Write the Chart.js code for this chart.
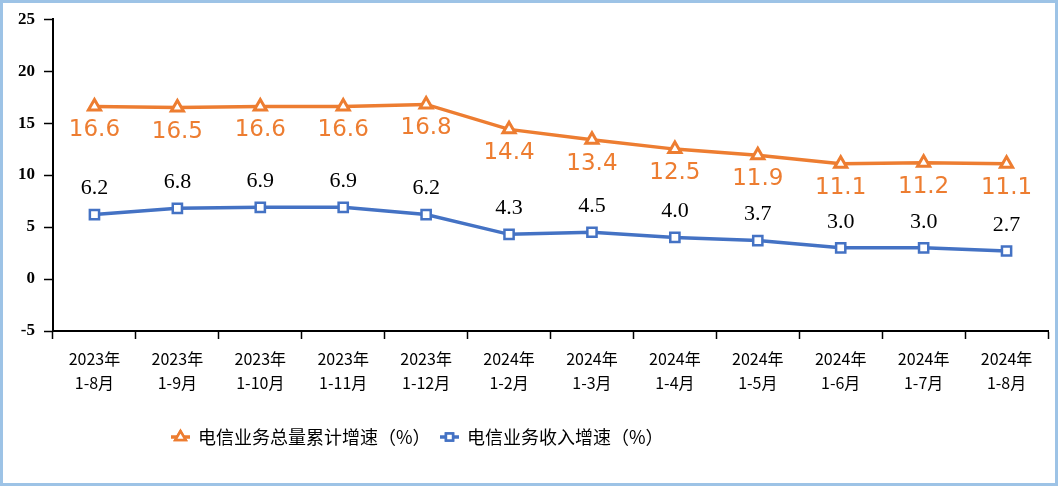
<!DOCTYPE html>
<html>
<head>
<meta charset="utf-8">
<script src="https://cdn.jsdelivr.net/npm/chart.js@4"></script>
<style>
  html, body { margin: 0; padding: 0; background: #fff; }
  #wrap { position: relative; width: 1058px; height: 486px; }
</style>
</head>
<body>
<div id="wrap"><canvas id="c" width="1058" height="486"></canvas></div>
<script>
  // 数据
  const years = ['2023年', '2023年', '2023年', '2023年', '2023年', '2024年', '2024年', '2024年', '2024年', '2024年', '2024年', '2024年'];
  const periods = ['1-8月', '1-9月', '1-10月', '1-11月', '1-12月', '1-2月', '1-3月', '1-4月', '1-5月', '1-6月', '1-7月', '1-8月'];
  const totalGrowth = [16.6, 16.5, 16.6, 16.6, 16.8, 14.4, 13.4, 12.5, 11.9, 11.1, 11.2, 11.1];
  const revenueGrowth = [6.2, 6.8, 6.9, 6.9, 6.2, 4.3, 4.5, 4.0, 3.7, 3.0, 3.0, 2.7];
  const seriesNames = ['电信业务总量累计增速（%）', '电信业务收入增速（%）'];

  const ORANGE = '#ED7D31', BLUE = '#4472C4';
  const CJK = '"Noto Sans CJK SC", "Noto Sans", sans-serif';

  // 数值标签 + 图例 + 外框
  const deco = {
    id: 'deco',
    afterDatasetsDraw(chart) {
      const ctx = chart.ctx;
      ctx.save();
      ctx.textAlign = 'center';
      ctx.textBaseline = 'middle';
      chart.getDatasetMeta(0).data.forEach((pt, i) => {
        ctx.fillStyle = ORANGE;
        ctx.font = '23px "DejaVu Sans", sans-serif';
        ctx.fillText(totalGrowth[i].toFixed(1), pt.x, pt.y + 24);
      });
      chart.getDatasetMeta(1).data.forEach((pt, i) => {
        ctx.fillStyle = '#000';
        ctx.font = '22px "Liberation Serif", serif';
        ctx.fillText(revenueGrowth[i].toFixed(1), pt.x, pt.y - 26);
      });
      ctx.restore();
    },
    afterDraw(chart) {
      const ctx = chart.ctx;
      ctx.save();
      // legend
      const ly = 437;
      const items = [
        { x: 171, color: ORANGE, style: 'triangle', text: seriesNames[0] },
        { x: 440, color: BLUE, style: 'rect', text: seriesNames[1] },
      ];
      items.forEach(it => {
        ctx.strokeStyle = it.color; ctx.lineWidth = 3.5;
        ctx.beginPath(); ctx.moveTo(it.x, ly); ctx.lineTo(it.x + 19, ly); ctx.stroke();
        ctx.fillStyle = '#fff'; ctx.lineWidth = 2.5;
        Chart.helpers.drawPoint(ctx, { pointStyle: it.style, radius: it.style === 'rect' ? 5 : 6, rotation: 0, borderWidth: 2.5 }, it.x + 9.5, ly);
        ctx.fill(); ctx.stroke();
        ctx.fillStyle = '#000';
        ctx.font = '18px ' + CJK;
        ctx.textAlign = 'left'; ctx.textBaseline = 'middle';
        ctx.fillText(it.text, it.x + 27, ly);
      });
      // frame
      ctx.strokeStyle = '#9DC3E6'; ctx.lineWidth = 3;
      ctx.strokeRect(1.5, 1.5, chart.width - 3, chart.height - 3);
      ctx.restore();
    }
  };

  new Chart(document.getElementById('c').getContext('2d'), {
    type: 'line',
    data: {
      labels: years.map((y, i) => [y, periods[i]]),
      datasets: [
        { label: seriesNames[0], data: totalGrowth, borderColor: ORANGE, borderWidth: 3.5, backgroundColor: '#fff',
          pointStyle: 'triangle', pointRadius: 7, pointBorderWidth: 3, pointBorderColor: ORANGE, pointBackgroundColor: '#fff', tension: 0 },
        { label: seriesNames[1], data: revenueGrowth, borderColor: BLUE, borderWidth: 3.5, backgroundColor: '#fff',
          pointStyle: 'rect', pointRadius: 6.5, pointBorderWidth: 2.5, pointBorderColor: BLUE, pointBackgroundColor: '#fff', tension: 0 },
      ],
    },
    options: {
      responsive: false, animation: false, devicePixelRatio: 1,
      layout: { padding: { left: 0, top: 19, right: 10, bottom: 75 } },
      plugins: { legend: { display: false }, tooltip: { enabled: false } },
      scales: {
        x: {
          offset: true,
          grid: { display: true, drawOnChartArea: false, offset: true, tickLength: 8, color: '#000', tickWidth: 1.5 },
          border: { color: '#000', width: 2 },
          ticks: { color: '#000', font: { family: CJK, size: 16, lineHeight: 1.5 }, padding: 8, maxRotation: 0, autoSkip: false },
          afterFit(s) { s.height = 80; },
        },
        y: {
          min: -5, max: 25,
          grid: { display: true, drawOnChartArea: false, tickLength: 9, color: '#000', tickWidth: 1.5 },
          border: { color: '#000', width: 2 },
          ticks: { stepSize: 5, color: '#000', font: { family: '"Liberation Serif", serif', size: 17, weight: 'bold' }, padding: 9 },
          afterFit(s) { s.width = 53; },
        },
      },
    },
    plugins: [deco],
  });
</script>
</body>
</html>
